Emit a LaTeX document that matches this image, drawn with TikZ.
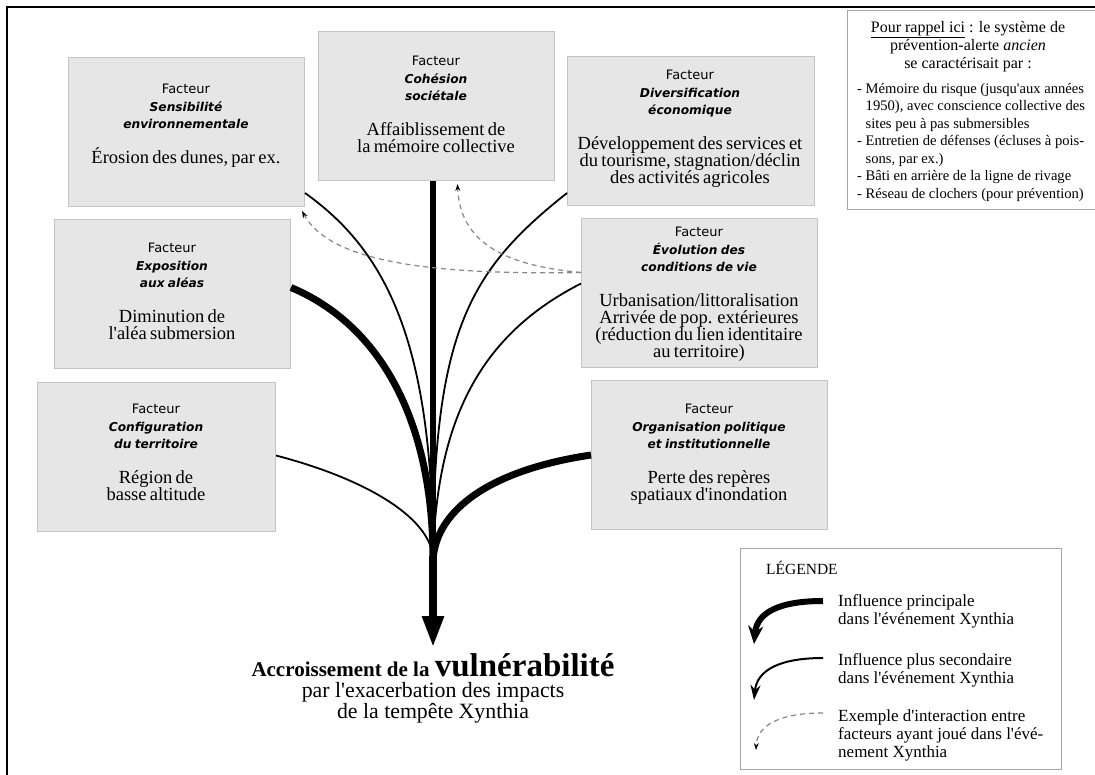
\documentclass[tikz,border=0pt]{standalone}
\usepackage{fontspec}
\setmainfont{Liberation Serif}
\newfontfamily\dejavu{DejaVu Sans}
\usetikzlibrary{arrows.meta}
\definecolor{boxfill}{RGB}{230,230,230}
\definecolor{boxline}{RGB}{196,196,196}
\definecolor{noteline}{RGB}{165,165,165}
\definecolor{dashgray}{RGB}{135,135,135}
\newcommand{\ap}{\textquotesingle}
\newcommand{\factorlines}[2]{%
  \lineskiplimit=-30pt
  {\dejavu\fontsize{13}{17.5}\selectfont Facteur\par}%
  {\dejavu\bfseries\itshape\fontsize{12.2}{17.5}\selectfont #1\par}%
  \vspace{17.5pt}%
  {\fontsize{18.5}{17}\selectfont #2\par}}
\begin{document}
\begin{tikzpicture}[x=1pt,y=-1pt,
  factbox/.style={draw=boxline,fill=boxfill,line width=1pt,inner sep=0pt,anchor=north west},
  whitebox/.style={draw=noteline,fill=white,line width=1pt,inner sep=0pt,anchor=north west},
  facttext/.style={anchor=north,inner sep=0pt,align=center,text width=228pt},
  thin/.style={line width=1.8pt},
  thick/.style={line width=7pt},
  interact/.style={draw=dashgray,line width=1.2pt,dash pattern=on 5pt off 4pt,-{Stealth[length=7pt,width=5pt,black]}}
]
\useasboundingbox (0,0) rectangle (1095,774);
\clip (0,0) rectangle (1095,774);
\fill[white] (0,0) rectangle (1095,774);
% frame
\draw[line width=2pt] (7,790) -- (7,7) -- (1110,7);

% factor boxes
\node[factbox,minimum width=236pt,minimum height=149pt] (sens) at (68,57) {};
\node[factbox,minimum width=236pt,minimum height=149pt] (coh) at (318,31) {};
\node[factbox,minimum width=247pt,minimum height=149pt] (div) at (567,56) {};
\node[factbox,minimum width=236pt,minimum height=149pt] (expo) at (54,219) {};
\node[factbox,minimum width=236pt,minimum height=149pt] (evo) at (581,218) {};
\node[factbox,minimum width=238pt,minimum height=149pt] (conf) at (37,382) {};
\node[factbox,minimum width=236pt,minimum height=149pt] (org) at (591,380) {};

\node[facttext] (tsens) at (186,84) {\factorlines{Sensibilité\\environnementale}{Érosion des dunes, par ex.}};
\node[facttext] (tcoh) at (436,56) {\factorlines{Cohésion\\sociétale}{Affaiblissement de\\la mémoire collective}};
\node[facttext,text width=245pt] (tdiv) at (690,70) {\factorlines{Diversification\\économique}{Développement des services et\\du tourisme, stagnation/déclin\\des activités agricoles}};
\node[facttext] (texpo) at (172,243) {\factorlines{Exposition\\aux aléas}{Diminution de\\l\ap aléa submersion}};
\node[facttext] (tevo) at (699,227) {\factorlines{Évolution des\\conditions de vie}{Urbanisation/littoralisation\\Arrivée de pop. extérieures\\(réduction du lien identitaire\\au territoire)}};
\node[facttext] (tconf) at (156,404) {\factorlines{Configuration\\du territoire}{Région de\\basse altitude}};
\node[facttext] (torg) at (709,404) {\factorlines{Organisation politique\\et institutionnelle}{Perte des repères\\spatiaux d\ap inondation}};

% convergence
\coordinate (conv) at (433,560);
\coordinate (tip) at (433,648);

% influences
\draw[thin] ([yshift=14pt]sens.south east) .. controls (385,250) and (433,340) .. (conv);
\draw[thin] ([yshift=13pt]div.south west) .. controls (470,270) and (433,330) .. (conv);
\draw[thin] ([yshift=9.5pt]evo.west) .. controls (480,335) and (436,420) .. (conv);
\draw[thin] ([yshift=1.5pt]conf.east) .. controls (370,480) and (433,520) .. (conv);
\draw[thick] ([yshift=6.5pt]expo.east) .. controls (380,325) and (433,420) .. (conv);
\draw[thick] (org.west) .. controls (490,470) and (436,510) .. (conv);
\draw[line width=6.5pt] (coh.south -| conv) -- (conv);
\draw[line width=8pt,-{Triangle[length=32pt,width=20pt]}] ([yshift=4pt]conv) -- (tip);

% interactions
\draw[interact] ([yshift=20.5pt]evo.west) .. controls (430,275) and (330,262) .. ([xshift=-3pt,yshift=-4pt]sens.south east);
\draw[interact] ([yshift=20.5pt]evo.west) .. controls (500,265) and (460,240) .. ([xshift=21pt,yshift=-3pt]coh.south);

% result
\node[anchor=base,inner sep=0pt] (res1) at (433,676) {\bfseries{\fontsize{21}{21}\selectfont Accroissement de la }{\fontsize{33}{33}\selectfont vulnérabilité}};
\node[anchor=base,inner sep=0pt,font=\fontsize{21.8}{21.8}\selectfont] (res2) at (433,697.5) {par l\ap exacerbation des impacts};
\node[anchor=base,inner sep=0pt,font=\fontsize{21.8}{21.8}\selectfont] (res3) at (433,718) {de la tempête Xynthia};

% note box
\node[whitebox,minimum width=270pt,minimum height=199pt] (note) at (847,10) {};
\node[anchor=north,inner sep=0pt,align=center,font=\fontsize{16}{18}\selectfont] (notehead) at (968,21)
  {\underline{Pour rappel ici} : le système de\\prévention-alerte \textit{ancien}\\se caractérisait par :};
\node[anchor=north west,inner sep=0pt,align=left,font=\fontsize{14.6}{17.5}\selectfont] (notelist) at (857,83)
  {- Mémoire du risque (jusqu\ap aux années\\\hspace*{8.5pt}1950), avec conscience collective des\\\hspace*{8.5pt}sites peu à pas submersibles\\- Entretien de défenses (écluses à pois-\\\hspace*{8.5pt}sons, par ex.)\\- Bâti en arrière de la ligne de rivage\\- Réseau de clochers (pour prévention)};

% legend
\node[whitebox,minimum width=321pt,minimum height=221pt] (legend) at (740,548) {};
\node[anchor=base west,inner sep=0pt,font=\fontsize{15.5}{15.5}\selectfont] (legtitle) at (766,574) {LÉGENDE};
\node[anchor=north west,inner sep=0pt,align=left,font=\fontsize{17}{18}\selectfont] (leg1) at (838,594) {Influence principale\\dans l\ap événement Xynthia};
\node[anchor=north west,inner sep=0pt,align=left,font=\fontsize{17}{18}\selectfont] (leg2) at (838,653) {Influence plus secondaire\\dans l\ap événement Xynthia};
\node[anchor=north west,inner sep=0pt,align=left,font=\fontsize{17}{18}\selectfont] (leg3) at (838,709) {Exemple d\ap interaction entre\\facteurs ayant joué dans l\ap évé-\\nement Xynthia};
\coordinate (l1s) at (823,601);
\coordinate (l1e) at (754,644);
\coordinate (l2s) at (823,658);
\coordinate (l2e) at (754,700);
\coordinate (l3s) at (823,713);
\coordinate (l3e) at (756,750);
\draw[line width=6pt,-{Stealth[length=18pt,width=15pt]}] (l1s) .. controls (780,601) and (757,612) .. (l1e);
\draw[line width=2pt,-{Stealth[length=15pt,width=10pt]}] (l2s) .. controls (780,658) and (757,670) .. (l2e);
\draw[interact] (l3s) .. controls (780,713) and (757,725) .. (l3e);
\end{tikzpicture}
\end{document}
